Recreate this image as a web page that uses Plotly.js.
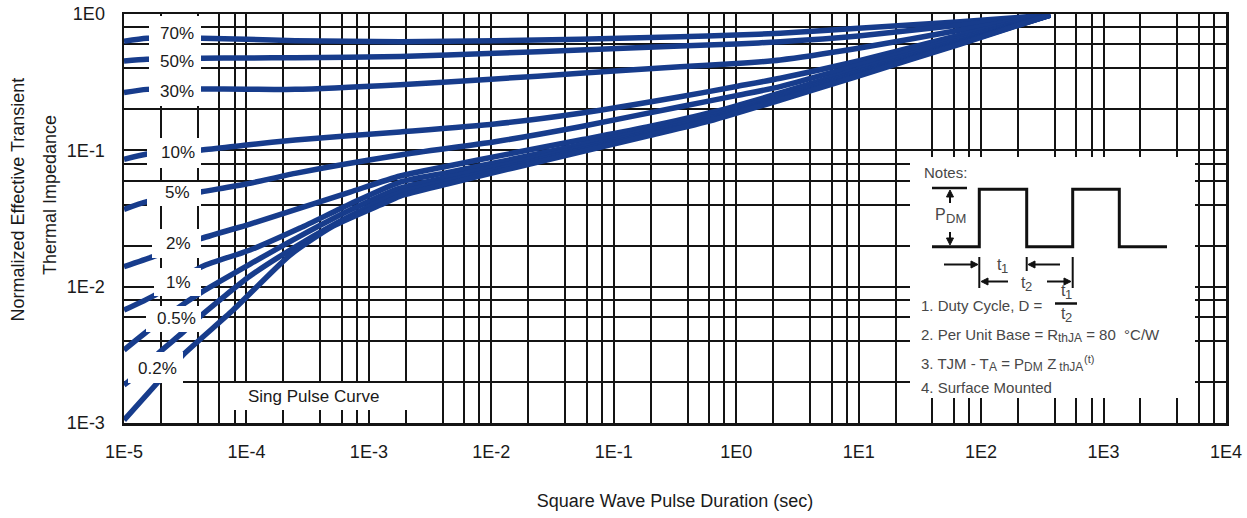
<!DOCTYPE html>
<html>
<head>
<meta charset="utf-8">
<script src="https://cdn.plot.ly/plotly-3.0.1.min.js"></script>
<style>
  html, body { margin: 0; padding: 0; background: #ffffff; }
  #chart { width: 1247px; height: 518px; }
</style>
</head>
<body>
<div id="chart"></div>
<script>
// Square-wave pulse duration (s) for the high duty-cycle curves
const tUpper = [1e-5, 1.54e-5, 4.31e-5, 1e-4, 2.5e-4, 1.8e-3, 1.07e-2, 5.31e-2, 0.348, 1, 2.29, 9.93, 67.6, 367];
const z70 = [0.630, 0.663, 0.663, 0.652, 0.637, 0.626, 0.637, 0.652, 0.682, 0.701, 0.722, 0.785, 0.878, 0.983];
const z50 = [0.452, 0.465, 0.473, 0.476, 0.478, 0.488, 0.515, 0.544, 0.582, 0.603, 0.626, 0.690, 0.830, 0.983];
const z30 = [0.265, 0.280, 0.282, 0.281, 0.280, 0.303, 0.334, 0.367, 0.411, 0.433, 0.460, 0.560, 0.763, 0.983];
const z10 = [0.0859, 0.0939, 0.1005, 0.1094, 0.1190, 0.1365, 0.156, 0.187, 0.247, 0.294, 0.338, 0.452, 0.701, 0.983];
const z05 = [0.0369, 0.0420, 0.0497, 0.0566, 0.0678, 0.0924, 0.1156, 0.149, 0.209, 0.252, 0.293, 0.422, 0.667, 0.983];

// Low duty-cycle curves and the single pulse curve
const t02pct = [1e-5, 1.73e-5, 4.31e-5, 1.07e-4, 2.74e-4, 7.02e-4, 1.8e-3, 4.35e-3, 1.507e-2, 5.31e-2, 0.1875, 0.649, 2.29, 9.93, 67.6, 367];
const z02pct = [0.014, 0.0166, 0.0226, 0.0288, 0.0377, 0.0494, 0.0648, 0.0765, 0.0955, 0.1190, 0.1483, 0.1910, 0.2633, 0.3949, 0.6445, 0.983];
const t01pct = [1e-5, 1.79e-5, 4.31e-5, 1.07e-4, 2.74e-4, 7.02e-4, 1.8e-3, 4.35e-3, 1.507e-2, 5.31e-2, 0.1875, 0.649, 2.29, 9.93, 67.6, 367];
const z01pct = [0.00673, 0.00868, 0.014, 0.01856, 0.0269, 0.0404, 0.0585, 0.0686, 0.0863, 0.1097, 0.1395, 0.1809, 0.2511, 0.3766, 0.6273, 0.983];
const t005pct = [1e-5, 1.53e-5, 3.15e-5, 4.31e-5, 1.07e-4, 2.74e-4, 7.02e-4, 1.8e-3, 4.35e-3, 1.507e-2, 5.31e-2, 0.1875, 0.649, 2.29, 9.93, 67.6, 367];
const z005pct = [0.00343, 0.00467, 0.00758, 0.00913, 0.01465, 0.0235, 0.0365, 0.0529, 0.0633, 0.0810, 0.1043, 0.1342, 0.1749, 0.2435, 0.3653, 0.6168, 0.983];
const t002pct = [1e-5, 1.08e-5, 1.97e-5, 2.96e-5, 4.31e-5, 1.07e-4, 2.74e-4, 7.02e-4, 1.8e-3, 4.35e-3, 1.507e-2, 5.31e-2, 0.1875, 0.649, 2.29, 9.93, 67.6, 367];
const z002pct = [0.0019, 0.0020, 0.00333, 0.00454, 0.00619, 0.01196, 0.02054, 0.0330, 0.0490, 0.0595, 0.0770, 0.1002, 0.1301, 0.1702, 0.2378, 0.3568, 0.6085, 0.983];
const tSingle = [1e-5, 1.9e-5, 3.03e-5, 7.78e-5, 2.27e-4, 5.10e-4, 1.235e-3, 1.8e-3, 4.35e-3, 1.507e-2, 5.31e-2, 0.1875, 0.649, 2.29, 9.93, 67.6, 367];
const zSingle = [0.00105, 0.0020, 0.00315, 0.00673, 0.01705, 0.0278, 0.0397, 0.0462, 0.0566, 0.0742, 0.0972, 0.1273, 0.1669, 0.2339, 0.3508, 0.6024, 0.983];

const dutyLabels = ['70%', '50%', '30%', '10%', '5%', '2%', '1%', '0.5%', '0.2%'];
const singleLabel = 'Sing Pulse Curve';

const xTickLabels = ['1E-5', '1E-4', '1E-3', '1E-2', '1E-1', '1E0', '1E1', '1E2', '1E3', '1E4'];
const yTickLabels = ['1E-3', '1E-2', '1E-1', '1E0'];
const gridMantissas = [2, 4, 6, 8];

// note lines as runs of plain / subscript / superscript text
const NB = '\u00a0';
const noteLines = [
  [{ t: '1. Duty Cycle, D =' }],
  [{ t: '2. Per Unit Base = R' }, { t: 'thJA', sub: true }, { t: NB + '= 80' + NB + NB + '°C/W' }],
  [{ t: '3. TJM - T' }, { t: 'A', sub: true }, { t: NB + '= P' }, { t: 'DM', sub: true }, { t: NB + 'Z' },
   { t: NB + 'thJA', sub: true }, { t: '(t)', sup: true }],
  [{ t: '4. Surface Mounted' }]
];

// ---- axis ticks: labelled decades, extra grid lines at 2, 4, 6, 8 of each decade
function decadeTicks(labels, firstExp) {
  return labels.map((_, i) => Math.pow(10, firstExp + i));
}
function minorTicks(labels, firstExp) {
  const vals = [];
  for (let i = 0; i < labels.length - 1; i++) {
    gridMantissas.forEach(m => vals.push(m * Math.pow(10, firstExp + i)));
  }
  return vals;
}

// ---- plot frame in page pixels, used to place the overlay boxes and the notes sketch
const L = 124, R = 1226, T = 14, B = 423;
const px = x => (x - L) / (R - L);
const py = y => (B - y) / (B - T);

const BLUE = '#173c8c';
const INK = '#141414';
const FONT = 'Liberation Sans, Arial, sans-serif';

function curve(t, z) {
  return {
    x: t, y: z, type: 'scatter', mode: 'lines', hoverinfo: 'skip',
    line: { color: BLUE, width: 5.5, shape: 'spline', smoothing: 0.6 }
  };
}
const traces = [
  curve(tUpper, z70), curve(tUpper, z50), curve(tUpper, z30), curve(tUpper, z10), curve(tUpper, z05),
  curve(t02pct, z02pct), curve(t01pct, z01pct), curve(t005pct, z005pct), curve(t002pct, z002pct),
  curve(tSingle, zSingle)
];

// white panels behind the curve labels and the notes
function panel(x0, y0, x1, y1) {
  return { type: 'rect', xref: 'paper', yref: 'paper', x0: px(x0), x1: px(x1), y0: py(y1), y1: py(y0),
           fillcolor: '#ffffff', line: { width: 0 }, layer: 'above' };
}
const shapes = [
  panel(149, 16, 201, 106),
  panel(147, 138, 201, 168),
  panel(147, 182, 201, 206),
  panel(152, 229, 201, 258),
  panel(154, 268, 201, 296),
  panel(146, 306, 201, 332),
  panel(128, 352, 183, 383),
  panel(227, 383, 408, 410),
  panel(910, 157, 1195, 398)
];

// square-wave sketch inside the notes
function pathFrom(points, close) {
  return points.map((p, i) => (i ? 'L' : 'M') + px(p[0]).toFixed(5) + ',' + py(p[1]).toFixed(5)).join(' ') + (close ? ' Z' : '');
}
function inkPath(points, w) {
  return { type: 'path', xref: 'paper', yref: 'paper', path: pathFrom(points),
           line: { color: '#111111', width: w }, layer: 'above' };
}
// dimension arrow: shaft from (x0,y0) to the tip (x1,y1) with a filled head
function dimArrow(x0, y0, x1, y1) {
  const len = Math.hypot(x1 - x0, y1 - y0), ux = (x1 - x0) / len, uy = (y1 - y0) / len;
  const hl = 7, hw = 3.5;
  const bx = x1 - ux * hl, by = y1 - uy * hl;
  shapes.push(inkPath([[x0, y0], [bx, by]], 2));
  shapes.push({ type: 'path', xref: 'paper', yref: 'paper', layer: 'above',
                path: pathFrom([[x1, y1], [bx - uy * hw, by + ux * hw], [bx + uy * hw, by - ux * hw]], true),
                fillcolor: '#111111', line: { color: '#111111', width: 1 } });
}
shapes.push(inkPath([[932, 246.7], [979.3, 246.7], [979.3, 189.3], [1026.7, 189.3], [1026.7, 246.7],
                     [1072.7, 246.7], [1072.7, 189.3], [1119.3, 189.3], [1119.3, 246.7], [1167, 246.7]], 3));
shapes.push(inkPath([[932, 188], [967, 188]], 2.5));
shapes.push(inkPath([[979.3, 257], [979.3, 288]], 2));
shapes.push(inkPath([[1026.7, 257], [1026.7, 271]], 2));
shapes.push(inkPath([[1072.7, 257], [1072.7, 288]], 2));
shapes.push(inkPath([[1055, 303.5], [1077, 303.5]], 2.5));
dimArrow(950, 203, 950, 190);
dimArrow(950, 232, 950, 245);
dimArrow(944, 264.5, 978, 264.5);
dimArrow(1060, 264.5, 1028, 264.5);
dimArrow(1008, 281.5, 981, 281.5);
dimArrow(1047, 281.5, 1071, 281.5);

function label(text, x, y, size, anchor, color) {
  return { xref: 'paper', yref: 'paper', x: px(x), y: py(y), text: text, showarrow: false,
           xanchor: anchor || 'center', yanchor: 'middle', borderpad: 0, borderwidth: 0,
           font: { family: FONT, size: size, color: color || '#1a1a1a' } };
}

const annotations = [];

// runs of text laid out left to right, subscripts set smaller and lower
const measureCtx = document.createElement('canvas').getContext('2d');
function textWidth(s, size) {
  measureCtx.font = size + 'px "Liberation Sans", Arial, sans-serif';
  return measureCtx.measureText(s).width;
}
function richLine(runs, x, y, size, color) {
  let cx = x;
  runs.forEach(r => {
    const s = r.sub ? Math.round(size * 0.82) : r.sup ? Math.round(size * 0.72) : size;
    const dy = r.sub ? 4 : r.sup ? -4 : 0;
    annotations.push(label(r.t, cx, y + dy, s, 'left', color));
    cx += textWidth(r.t, s);
  });
}

// duty-cycle labels
const dutyPos = [[177, 33], [177, 61], [177, 91], [178, 152], [177, 193], [178, 243], [178, 282], [176, 318], [157, 368]];
dutyLabels.forEach((t, i) => annotations.push(label(t, dutyPos[i][0], dutyPos[i][1], 17)));
annotations.push(label(singleLabel, 313, 396.5, 17));

// notes
const NOTE = '#474747';
annotations.push(label('Notes:', 924, 172, 15, 'left', NOTE));
richLine([{ t: 'P' }, { t: 'DM', sub: true }], 935, 214, 16, NOTE);
richLine([{ t: 't' }, { t: '1', sub: true }], 997, 264, 16, NOTE);
richLine([{ t: 't' }, { t: '2', sub: true }], 1021, 282, 16, NOTE);
richLine([{ t: 't' }, { t: '1', sub: true }], 1061, 290, 16, NOTE);
richLine([{ t: 't' }, { t: '2', sub: true }], 1061, 313, 16, NOTE);
const noteY = [305, 334, 363, 387];
noteLines.forEach((runs, i) => richLine(runs, 921, noteY[i], 15, NOTE));

// two-line vertical axis title
const yTitle = { xref: 'paper', yref: 'paper', showarrow: false, textangle: -90,
                 xanchor: 'center', yanchor: 'middle',
                 font: { family: FONT, size: 18, color: '#1a1a1a' } };
annotations.push(Object.assign({}, yTitle, { text: 'Normalized Effective Transient', x: px(17.5), y: py(200) }));
annotations.push(Object.assign({}, yTitle, { text: 'Thermal Impedance', x: px(49.5), y: py(195.5) }));

function axisBase(labels, firstExp) {
  return {
    type: 'log', showgrid: true, gridcolor: INK, gridwidth: 2,
    showline: true, mirror: true, linecolor: INK, linewidth: 2.5,
    ticks: '', zeroline: false, fixedrange: true,
    tickmode: 'array', tickvals: decadeTicks(labels, firstExp), ticktext: labels,
    tickfont: { family: FONT, size: 18, color: '#1a1a1a' },
    minor: { tickmode: 'array', tickvals: minorTicks(labels, firstExp), ticks: '',
             showgrid: true, gridcolor: INK, gridwidth: 2 }
  };
}

const layout = {
  width: 1247, height: 518,
  margin: { l: L, r: 1247 - R, t: T, b: 518 - B, pad: 0 },
  paper_bgcolor: '#ffffff', plot_bgcolor: '#ffffff',
  showlegend: false,
  xaxis: Object.assign(axisBase(xTickLabels, -5), {
    range: [-5, 4], ticklabelstandoff: 11,
    title: { text: 'Square Wave Pulse Duration (sec)', standoff: 34,
             font: { family: FONT, size: 18, color: '#1a1a1a' } }
  }),
  yaxis: Object.assign(axisBase(yTickLabels, -3), {
    range: [-3, 0], ticklabelstandoff: 13
  }),
  shapes: shapes,
  annotations: annotations
};

Plotly.newPlot('chart', traces, layout, { staticPlot: true, displayModeBar: false });
</script>
</body>
</html>
